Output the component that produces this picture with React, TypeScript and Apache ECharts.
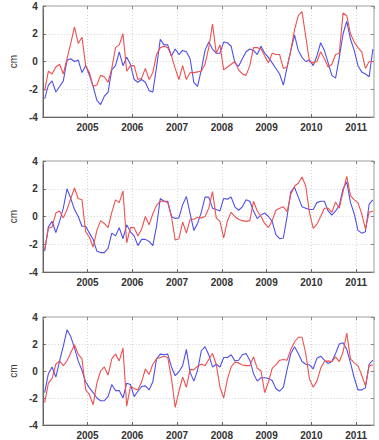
import React, { useEffect, useRef } from "react";
import * as echarts from "echarts";

// Monthly anomalies (cm), Jan 2004 – May 2011
const redA = [
  -2.1, -0.7, -0.9, -0.4, -0.2, -0.9, 0.2, 1.3, 2.5, 1.3, 1.75, -0.3,
  -0.8, -1.8, -1.7, -1.0, -1.1, -1.5, -0.5, 1.0, 1.2, 2.0, -0.7, -0.3,
  -0.3, -1.3, -1.2, -0.5, -1.3, -0.8, 0.5, 1.0, 1.1, 1.0, 0.4, -0.5,
  -1.3, -0.3, -1.3, -0.8, -0.8, -0.75, -0.7, -0.2, 1.0, 2.7, 0.6, 1.2,
  -0.6, -0.4, -0.2, 0.0, -0.6, -0.9, -1.0, -0.3, 1.0, 1.0, 0.9, 0.4,
  -0.1, 0.6, 0.5, 0.5, -0.5, -0.4, 0.8, 2.3, 3.3, 3.6, 1.8, 0.0,
  -0.1, 0.0, 0.7, 0.2, -0.4, -0.2, 0.5, 0.6, 3.5, 3.3, 2.0, 1.4,
  1.0, 0.7, -0.5, 0.0, 0.0,
];
const blueA = [
  -2.7, -1.7, -1.4, -2.2, -1.8, -1.4, 0.1, 0.2, 0.0, 0.1, -0.8, -0.3,
  -1.0, -1.8, -2.8, -3.1, -2.5, -2.2, -0.6, -0.3, 0.7, -0.3, 0.3, -0.2,
  -1.3, -1.5, -1.3, -1.5, -2.1, -2.2, -0.4, 1.6, 1.2, 1.2, 0.4, 0.9,
  0.5, 0.8, 0.7, 0.2, -1.5, -1.8, -0.6, 0.8, 1.4, 0.9, 0.6, 0.6,
  1.4, 1.35, 1.1, -0.1, -0.35, 0.2, 0.7, 0.9, 0.8, 0.5, 1.1, 0.6,
  0.3, -0.1, -0.5, -0.9, -1.7, -0.4, 0.8, 1.9, 0.8, 0.3, 0.0, 0.1,
  -0.3, 0.4, 1.35, 0.8, -0.1, -1.0, -1.2, 0.3, 2.0, 2.9, 1.6, 0.8,
  -0.3, -0.75, -0.9, -1.1, 0.9,
];
const redB = [
  -2.4, -0.85, -0.75, 0.25, 0.4, -0.1, 0.5, 1.3, 2.05, 1.3, 1.2, -1.1,
  -1.5, -2.2, -1.0, -0.3, -0.5, -0.8, 0.3, 1.2, 1.0, 1.85, -1.9, -0.8,
  -0.8, -1.4, -0.9, 0.0, -0.6, 0.2, 0.8, 1.1, 1.1, 1.0, 0.0, -1.7,
  -1.6, -0.4, -1.2, -0.2, -0.2, -0.05, -0.1, 0.0, 0.6, 1.8, -0.1, -0.35,
  -1.55, -0.3, 0.3, 0.0, -0.2, -0.3, -0.35, -0.3, 1.1, 0.4, 0.0, -0.5,
  -0.8, -0.3, 0.45, 0.6, 0.7, 0.35, 1.6, 2.2, 2.4, 2.85, 2.2, 0.3,
  -0.85, -0.55, 0.0, 0.6, 0.6, 0.3, 1.05, 0.6, 1.8, 2.9, 1.5, 1.2,
  1.0, 0.2, -0.9, 0.3, 0.4,
];
const blueB = [
  -2.5, -0.75, -0.35, -1.15, -0.35, 0.6, 2.0, 1.3, 0.5, 0.0, -0.7, -0.7,
  -1.2, -1.65, -2.5, -2.6, -2.6, -2.3, -1.2, -1.4, -0.8, -1.6, -0.6, -1.1,
  -1.4, -2.1, -1.65, -1.65, -1.8, -2.1, -0.7, 1.3, 1.1, 1.1, 0.0, -0.15,
  -0.1, 0.85, 1.45, 0.2, -1.0, -0.5, 0.3, 1.4, 1.4, 0.6, 0.5, 0.4,
  1.3, 1.25, 1.4, 0.7, 0.45, 0.7, 1.2, 1.1, 0.4, -0.15, 0.1, 0.25,
  0.0, -0.35, -1.3, -1.6, -1.55, 0.0, 1.8, 2.1, 1.4, 0.7, 0.6, 0.5,
  0.5, 1.0, 1.1, 1.1, 0.4, 0.1, 0.4, 0.8, 2.0, 2.5, 1.0, 0.2,
  -1.0, -1.2, -1.1, 0.9, 1.2,
];
const redC = [
  -2.35, -0.9, -0.55, 0.5, 0.75, 0.4, 0.75, 1.35, 1.95, 1.25, 0.9, -1.4,
  -1.75, -2.5, -0.9, 0.0, 0.3, -0.3, 0.9, 1.25, 0.75, 1.7, -2.6, -1.15,
  -1.3, -1.4, -0.8, 0.15, -0.25, 0.5, 0.9, 1.0, 1.1, 1.0, -0.55, -2.7,
  -1.5, -0.45, -1.2, 0.1, 0.1, 0.35, 0.5, 0.4, 0.85, 1.3, 0.5, -1.2,
  -2.0, -0.6, 0.3, 0.65, 0.6, 0.45, 0.4, 0.4, 1.05, 0.2, 0.0, -1.6,
  -0.8, 0.2, 0.45, 0.8, 0.85, 0.8, 1.6, 2.15, 2.5, 2.5, 1.3, -0.6,
  -1.2, -0.75, 0.2, 0.7, 0.75, 0.7, 1.05, 0.7, 1.4, 2.8, 0.9, 0.6,
  0.4, -0.3, -1.1, 0.4, 0.45,
];
const blueC = [
  -1.6, -0.2, 0.3, -0.45, 0.75, 1.85, 3.05, 2.55, 1.7, 0.75, 0.05, -0.8,
  -1.25, -1.6, -2.0, -2.2, -2.2, -1.9, -1.0, -1.45, -1.45, -2.0, -0.9, -1.0,
  -1.9, -1.5, -1.15, -1.1, -1.4, -0.8, 0.9, 1.25, 1.2, 1.25, 0.3, -0.35,
  -0.05, 0.4, 1.6, -0.1, -0.75, 0.05, 1.5, 1.8, 1.2, 0.3, 0.5, 0.3,
  1.0, 1.0, 1.2, 0.75, 0.8, 1.2, 1.3, 0.8, -0.2, -0.75, -0.5, -0.5,
  -0.55, -0.7, -1.3, -1.5, -1.2, 0.1, 1.3, 1.8, 1.3, 0.7, 0.5, 0.45,
  0.15, 0.95, 1.1, 0.8, 0.55, 0.7, 1.3, 2.0, 2.1, 1.6, 0.6, -0.5,
  -1.4, -1.4, -1.25, 0.5, 0.8,
];

const panels = [
  { red: redA, blue: blueA },
  { red: redB, blue: blueB },
  { red: redC, blue: blueC },
];

const yearTicks = [2005, 2006, 2007, 2008, 2009, 2010, 2011];
const yTicks = [-4, -2, 0, 2, 4];

const X_MIN = 2004;
const X_MAX = 2011.4;

// mid-month decimal years
const months = redA.map((_, i) => X_MIN + (i + 0.5) / 12);

const RED = "#ef5050";
const BLUE = "#5050e8";

export default function App() {
  const ref = useRef<HTMLDivElement>(null);

  useEffect(() => {
    if (!ref.current) return;
    const chart = echarts.init(ref.current, null, { renderer: "svg" });

    const tops = [6, 161, 317];
    const grid = tops.map((top) => ({
      left: 26,
      top,
      width: 348,
      height: 111,
      show: true,
      borderColor: "#9a9a9a",
      borderWidth: 1,
      backgroundColor: "#fff",
    }));

    const labelStyle = {
      color: "#333",
      fontSize: 10,
      fontWeight: "bold" as const,
      fontFamily: "Liberation Sans, Arial, sans-serif",
    };

    const xAxis: any[] = [];
    const yAxis: any[] = [];
    const series: any[] = [];

    tops.forEach((_, g) => {
      xAxis.push({
        type: "value",
        gridIndex: g,
        min: X_MIN,
        max: X_MAX,
        interval: 1,
        position: "bottom",
        axisLine: { show: true, onZero: false, lineStyle: { color: "#666", width: 1 } },
        axisTick: { show: true, inside: true, length: 3, lineStyle: { color: "#666" } },
        axisLabel: {
          ...labelStyle,
          margin: 5,
          showMinLabel: false,
          showMaxLabel: false,
          formatter: (v: number) => (yearTicks.includes(Math.round(v * 1000) / 1000) ? String(v) : ""),
        },
        splitLine: { show: true, lineStyle: { color: "#d4d4d4", type: [1, 2], width: 1 } },
      });
      xAxis.push({
        type: "value",
        gridIndex: g,
        min: X_MIN,
        max: X_MAX,
        interval: 1,
        position: "top",
        axisLine: { show: false, onZero: false },
        axisTick: { show: true, inside: true, length: 3, lineStyle: { color: "#888" } },
        axisLabel: { show: false },
        splitLine: { show: false },
      });
      yAxis.push({
        type: "value",
        gridIndex: g,
        min: -4,
        max: 4,
        interval: 2,
        position: "left",
        name: "cm",
        nameLocation: "middle",
        nameGap: 20,
        nameTextStyle: { color: "#333", fontSize: 10, fontFamily: "Liberation Sans, Arial, sans-serif" },
        axisLine: { show: true, onZero: false, lineStyle: { color: "#666", width: 1 } },
        axisTick: { show: true, inside: true, length: 3, lineStyle: { color: "#666" } },
        axisLabel: { ...labelStyle, margin: 5, formatter: (v: number) => (yTicks.includes(v) ? String(v) : "") },
        splitLine: { show: true, lineStyle: { color: "#d4d4d4", type: [1, 2], width: 1 } },
      });
      yAxis.push({
        type: "value",
        gridIndex: g,
        min: -4,
        max: 4,
        interval: 2,
        position: "right",
        axisLine: { show: false, onZero: false },
        axisTick: { show: true, inside: true, length: 3, lineStyle: { color: "#888" } },
        axisLabel: { show: false },
        splitLine: { show: false },
      });

      const p = panels[g];
      series.push({
        type: "line",
        xAxisIndex: g * 2,
        yAxisIndex: g * 2,
        data: months.map((t, i) => [t, p.red[i]]),
        symbol: "none",
        lineStyle: { color: RED, width: 1.1 },
        z: 3,
      });
      series.push({
        type: "line",
        xAxisIndex: g * 2,
        yAxisIndex: g * 2,
        data: months.map((t, i) => [t, p.blue[i]]),
        symbol: "none",
        lineStyle: { color: BLUE, width: 1.1 },
        z: 2,
      });
    });

    chart.setOption({
      animation: false,
      backgroundColor: "#fff",
      grid,
      xAxis,
      yAxis,
      series,
    });

    return () => chart.dispose();
  }, []);

  return (
    <div
      ref={ref}
      style={{ position: "absolute", left: 0, top: 0, width: 379, height: 440 }}
    />
  );
}
